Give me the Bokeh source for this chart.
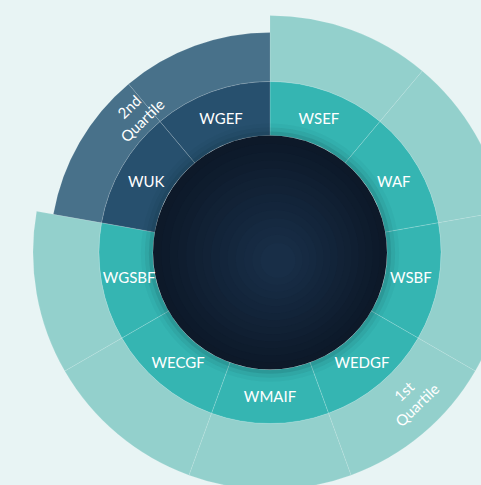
import numpy as np
from bokeh.plotting import figure
from bokeh.models import ColumnDataSource
from bokeh.core.properties import value
from bokeh.embed import file_html
from bokeh.resources import INLINE
from bokeh.core.templates import get_env

# ---- data ----
funds = ["WSEF", "WAF", "WSBF", "WEDGF", "WMAIF", "WECGF", "WGSBF", "WUK", "WGEF"]
weights = [1, 1, 1, 1, 1, 1, 1, 1, 1]
quartile = [1, 1, 1, 1, 1, 1, 1, 2, 2]
quartile_labels = ["1st\nQuartile", "2nd\nQuartile"]

# ---- styling ----
W, H = 481, 485
CX, CY = 269.5, 233.0
R0, R1 = 117, 171
R_OUT = {1: 237, 2: 220}
inner_col = {1: "#35B5B2", 2: "#27506E"}
outer_col = {1: "#93D0CC", 2: "#48718A"}
BG = "#E8F4F4"
FONT = "Lato"

tot = float(sum(weights))
cum = np.concatenate([[0], np.cumsum(weights)]) / tot * 360.0
start = [np.deg2rad(90 - cum[i + 1]) for i in range(len(funds))]
end = [np.deg2rad(90 - cum[i]) for i in range(len(funds))]
mid = [np.deg2rad(90 - (cum[i] + cum[i + 1]) / 2) for i in range(len(funds))]

p = figure(width=W, height=H, x_range=(0, W), y_range=(0, H),
           output_backend="svg", toolbar_location=None, min_border=0,
           background_fill_color=BG, border_fill_color=BG, outline_line_color=None)
p.axis.visible = False
p.grid.visible = False

src = ColumnDataSource(dict(
    x=[CX] * len(funds), y=[CY] * len(funds),
    start=start, end=end,
    outer=[R_OUT[q] for q in quartile],
    ocol=[outer_col[q] for q in quartile],
    icol=[inner_col[q] for q in quartile],
))

# outer ring
p.annular_wedge(x="x", y="y", inner_radius=R1, outer_radius="outer",
                start_angle="start", end_angle="end", source=src,
                fill_color="ocol", line_color="#FFFFFF", line_alpha=0.15, line_width=0.8)
# inner ring
p.annular_wedge(x="x", y="y", inner_radius=R0, outer_radius=R1,
                start_angle="start", end_angle="end", source=src,
                fill_color="icol", line_color="#FFFFFF", line_alpha=0.2, line_width=0.8)
# subtle inner shading of inner ring
for k, a in enumerate([0.10, 0.07, 0.04]):
    p.annular_wedge(x="x", y="y", inner_radius=R0, outer_radius=R0 + 4 * (k + 1),
                    start_angle="start", end_angle="end", source=src,
                    fill_color="#0B2A33", fill_alpha=a, line_color=None)

# center disc with radial gradient approximation
steps = 14
for k in range(steps):
    t = k / (steps - 1)
    r = R0 * (1 - t * 0.85)
    c0 = np.array([0x0D, 0x19, 0x29])
    c1 = np.array([0x18, 0x2E, 0x47])
    c = (c0 + (c1 - c0) * t).astype(int)
    col = "#%02x%02x%02x" % tuple(c)
    p.circle(x=[CX + 8 * t], y=[CY - 8 * t], radius=r, fill_color=col, line_color=None)

# fund labels
LR = 143
p.text(x=[CX + LR * np.cos(m) for m in mid], y=[CY + LR * np.sin(m) for m in mid],
       text=funds, text_align="center", text_baseline="middle",
       text_color="white", text_font=value(FONT), text_font_size="15px")

# quartile labels
qs = sorted(set(quartile))
qx, qy, qa = [], [], []
for q in qs:
    idx = [i for i, v in enumerate(quartile) if v == q]
    a0 = cum[idx[0]]
    a1 = cum[idx[-1] + 1]
    am = (a0 + a1) / 2 - 4
    th = np.deg2rad(90 - am)
    rr = (R1 + R_OUT[q]) / 2 - 2
    qx.append(CX + rr * np.cos(th))
    qy.append(CY + rr * np.sin(th))
    qa.append(th - np.pi / 2 if np.sin(th) > 0 else th + np.pi / 2)
p.text(x=qx, y=qy, text=[quartile_labels[q - 1] for q in qs], angle=qa,
       text_align="center", text_baseline="middle", text_line_height=1.05,
       text_color="white", text_font=value(FONT), text_font_size="15px")

tmpl = get_env().from_string(
    '{% extends "file.html" %}{% block preamble %}<style>html,body{background:'
    + BG + ';}</style>{% endblock %}')
open("out.html", "w").write(file_html(p, INLINE, template=tmpl))
